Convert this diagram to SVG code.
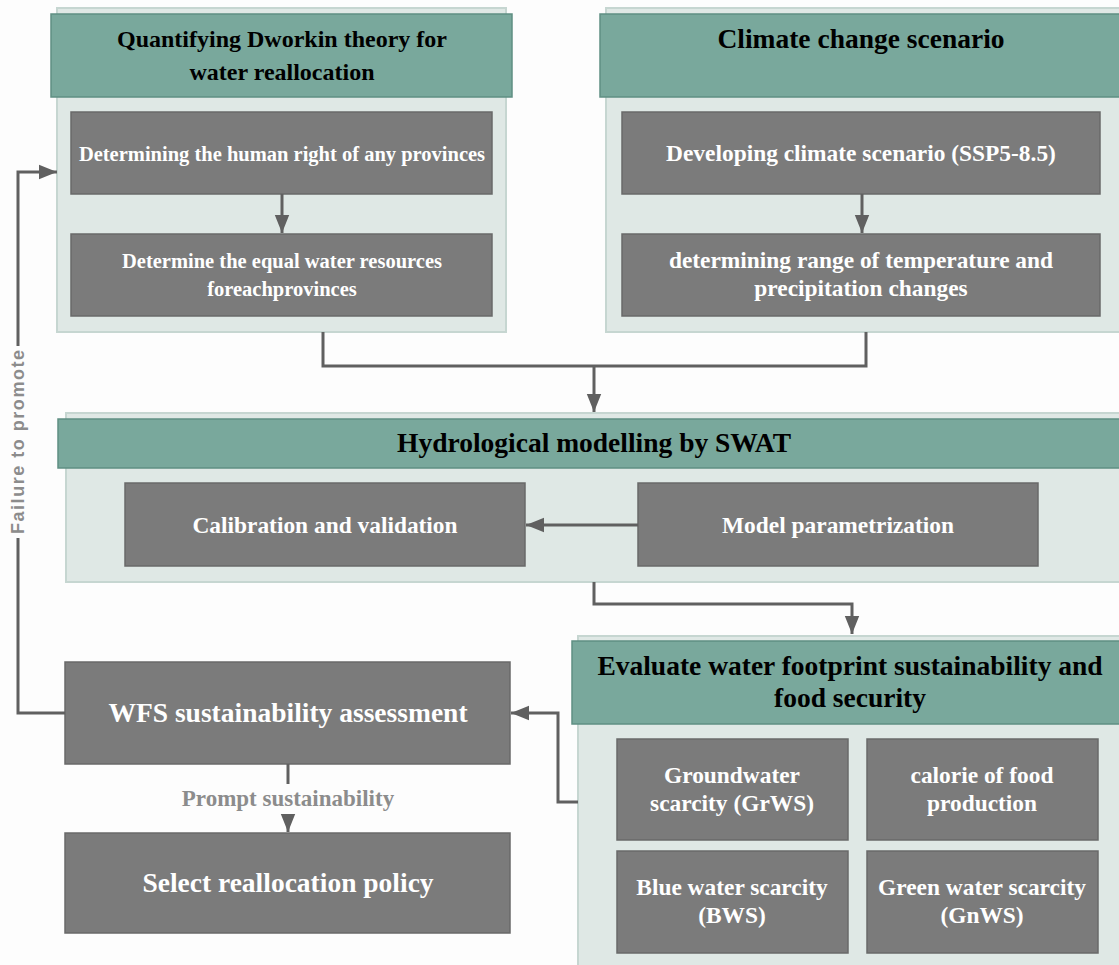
<svg xmlns="http://www.w3.org/2000/svg" width="1119" height="965" viewBox="0 0 1119 965">
<defs>
<marker id="arrL" viewBox="0 0 10 10" refX="10" refY="5" markerWidth="18" markerHeight="18" markerUnits="userSpaceOnUse" orient="auto">
<path d="M0,1 L10,5 L0,9 z" fill="#606060"/>
</marker>
</defs>
<style>
.panel{fill:#dfe8e5;stroke:#c6d6d1;stroke-width:2}
.head{fill:#79a89c;stroke:#5f8f83;stroke-width:1.5}
.box{fill:#7b7b7b;stroke:#696969;stroke-width:1.5}
.ht{font-family:"Liberation Serif",serif;font-weight:bold;font-size:27.5px;fill:#000;text-anchor:middle}
.ht1{font-size:24px}
.bt{font-family:"Liberation Serif",serif;font-weight:bold;font-size:23.4px;fill:#fff;text-anchor:middle}
.bs{font-size:20.5px}
.bt2{font-family:"Liberation Serif",serif;font-weight:bold;font-size:27.5px;fill:#fff;text-anchor:middle}
.lab{font-family:"Liberation Serif",serif;font-weight:bold;font-size:23px;fill:#8c8c8c;text-anchor:middle}
.lab2{font-family:"Liberation Sans",sans-serif;font-weight:bold;font-size:18px;fill:#8c8c8c;text-anchor:middle}
.con{fill:none;stroke:#606060;stroke-width:3}
</style>
<rect width="1119" height="965" fill="#fdfdfd"/>

<g id="panel-dworkin">
<rect class="panel" x="57" y="8" width="449" height="324"/>
<rect class="head" x="51" y="14" width="461" height="83"/>
<text class="ht ht1" x="282" y="47">Quantifying Dworkin theory for</text>
<text class="ht ht1" x="282" y="80">water reallocation</text>
</g>
<g id="node-human-right">
<rect class="box" x="71" y="112" width="421" height="82"/>
<text class="bt bs" x="282" y="161">Determining the human right of any provinces</text>
</g>
<g id="node-equal-water">
<rect class="box" x="71" y="234" width="421" height="82"/>
<text class="bt bs" x="282" y="268">Determine the equal water resources</text>
<text class="bt bs" x="282" y="296">foreachprovinces</text>
</g>

<g id="panel-climate">
<rect class="panel" x="606" y="8" width="520" height="324"/>
<rect class="head" x="600" y="14" width="525" height="83"/>
<text class="ht" x="861" y="48">Climate change scenario</text>
</g>
<g id="node-ssp">
<rect class="box" x="622" y="112" width="478" height="82"/>
<text class="bt" x="861" y="161">Developing climate scenario (SSP5-8.5)</text>
</g>
<g id="node-range">
<rect class="box" x="622" y="234" width="478" height="82"/>
<text class="bt" x="861" y="268">determining range of temperature and</text>
<text class="bt" x="861" y="296">precipitation changes</text>
</g>

<g id="panel-swat">
<rect class="panel" x="66" y="413" width="1060" height="169"/>
<rect class="head" x="58" y="419" width="1068" height="49"/>
<text class="ht" x="594" y="452">Hydrological modelling by SWAT</text>
</g>
<g id="node-calibration">
<rect class="box" x="125" y="483" width="400" height="83"/>
<text class="bt" x="325" y="533">Calibration and validation</text>
</g>
<g id="node-param">
<rect class="box" x="638" y="483" width="400" height="83"/>
<text class="bt" x="838" y="533">Model parametrization</text>
</g>

<g id="panel-wfs">
<rect class="panel" x="578" y="636" width="548" height="335"/>
<rect class="head" x="572" y="641" width="554" height="83"/>
<text class="ht" x="850" y="675">Evaluate water footprint sustainability and</text>
<text class="ht" x="850" y="707">food security</text>
</g>
<g id="node-grws">
<rect class="box" x="617" y="739" width="231" height="101"/>
<text class="bt" x="732" y="783">Groundwater</text>
<text class="bt" x="732" y="811">scarcity (GrWS)</text>
</g>
<g id="node-calorie">
<rect class="box" x="867" y="739" width="231" height="101"/>
<text class="bt" x="982" y="783">calorie of food</text>
<text class="bt" x="982" y="811">production</text>
</g>
<g id="node-bws">
<rect class="box" x="617" y="851" width="231" height="102"/>
<text class="bt" x="732" y="895">Blue water scarcity</text>
<text class="bt" x="732" y="923">(BWS)</text>
</g>
<g id="node-gnws">
<rect class="box" x="867" y="851" width="231" height="102"/>
<text class="bt" x="982" y="895">Green water scarcity</text>
<text class="bt" x="982" y="923">(GnWS)</text>
</g>

<g id="node-wfs-assessment">
<rect class="box" x="65" y="662" width="445" height="102"/>
<text class="bt2" x="288" y="722">WFS sustainability assessment</text>
</g>
<g id="node-select">
<rect class="box" x="65" y="833" width="445" height="100"/>
<text class="bt2" x="288" y="892">Select reallocation policy</text>
</g>

<g id="connectors">
<line class="con" x1="282" y1="194" x2="282" y2="233" stroke-width="2" marker-end="url(#arrL)"/>
<line class="con" x1="862" y1="194" x2="862" y2="233" stroke-width="2" marker-end="url(#arrL)"/>
<polyline class="con" points="323,332 323,366 866,366 866,332"/>
<line class="con" x1="594" y1="366" x2="594" y2="412" marker-end="url(#arrL)"/>
<line class="con" x1="638" y1="525" x2="526" y2="525" stroke-width="2" marker-end="url(#arrL)"/>
<polyline class="con" points="594,582 594,604 852,604 852,634" marker-end="url(#arrL)"/>
<polyline class="con" points="578,802 558,802 558,713 511,713" marker-end="url(#arrL)"/>
<line class="con" x1="288" y1="764" x2="288" y2="784"/>
<line class="con" x1="288" y1="814" x2="288" y2="832" stroke-width="0" marker-end="url(#arrL)"/>
<polyline class="con" points="65,713 18,713 18,538"/>
<polyline class="con" points="18,346 18,172 57,172" marker-end="url(#arrL)"/>
<text class="lab" x="288" y="806">Prompt sustainability</text>
<text class="lab2" x="0" y="0" transform="translate(24,442) rotate(-90)" textLength="184" lengthAdjust="spacing">Failure to promote</text>
</g>
</svg>
